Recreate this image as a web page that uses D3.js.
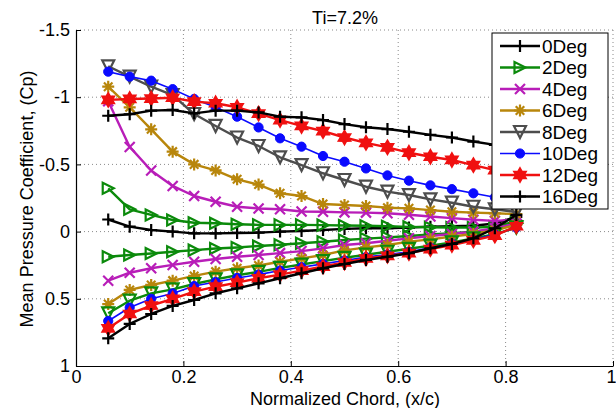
<!DOCTYPE html>
<html><head><meta charset="utf-8">
<script src="https://cdn.jsdelivr.net/npm/d3@7"></script>
<style>
html,body{margin:0;padding:0;background:#fff;}
svg{display:block;font-family:"Liberation Sans",Arial,sans-serif;}
</style></head>
<body><svg id="chart" width="616" height="408"></svg>
<script>
// ---- data ----
const chordX = [0.06,0.10,0.14,0.18,0.22,0.26,0.30,0.34,0.38,0.42,0.46,0.50,0.54,0.58,0.62,0.66,0.70,0.74,0.78,0.82];
const seriesNames = ["0Deg","2Deg","4Deg","6Deg","8Deg","10Deg","12Deg","16Deg"];
const xTicks = [0,0.2,0.4,0.6,0.8,1];
const yTicks = [-1.5,-1,-0.5,0,0.5,1];
const yTickLabels = ["-1.5","-1","-0.5","0","0.5","1"];
const xTickLabels = ["0","0.2","0.4","0.6","0.8","1"];

const cpUpper0  = [-0.09,-0.037,-0.012,0.0,0.013,0.013,0.01,0.008,0.0,-0.005,-0.012,-0.02,-0.025,-0.025,-0.03,-0.037,-0.04,-0.044,-0.06,-0.11];
const cpUpper2  = [-0.322,-0.166,-0.124,-0.086,-0.066,-0.062,-0.055,-0.05,-0.05,-0.05,-0.048,-0.045,-0.043,-0.04,-0.035,-0.032,-0.03,-0.03,-0.035,-0.08];
const cpUpper4  = [-0.97,-0.63,-0.455,-0.34,-0.265,-0.222,-0.185,-0.172,-0.166,-0.15,-0.148,-0.143,-0.141,-0.136,-0.125,-0.112,-0.1,-0.088,-0.08,-0.09];
const cpUpper6  = [-1.078,-0.925,-0.761,-0.595,-0.5,-0.455,-0.389,-0.35,-0.285,-0.265,-0.205,-0.198,-0.19,-0.178,-0.173,-0.16,-0.148,-0.141,-0.136,-0.13];
const cpUpper8  = [-1.23,-1.153,-1.078,-1.016,-0.875,-0.786,-0.70,-0.637,-0.553,-0.495,-0.434,-0.384,-0.334,-0.297,-0.272,-0.24,-0.215,-0.185,-0.166,-0.146];
const cpUpper10 = [-1.19,-1.153,-1.123,-1.06,-0.987,-0.925,-0.855,-0.775,-0.694,-0.632,-0.5625,-0.52,-0.47,-0.418,-0.379,-0.344,-0.316,-0.285,-0.255,-0.23];
const cpUpper12 = [-0.98,-0.987,-0.99,-0.996,-0.967,-0.955,-0.925,-0.878,-0.83,-0.786,-0.748,-0.70,-0.66,-0.627,-0.587,-0.557,-0.533,-0.495,-0.458,-0.42];
const cpUpper16 = [-0.862,-0.873,-0.90,-0.905,-0.88,-0.90,-0.90,-0.887,-0.855,-0.85,-0.83,-0.80,-0.776,-0.763,-0.743,-0.72,-0.70,-0.67,-0.645,-0.62];

const cpLower2  = [0.187,0.174,0.163,0.15,0.138,0.126,0.118,0.107,0.098,0.087,0.075,0.063,0.052,0.043,0.033,0.022,0.012,0.0,-0.015,-0.06];
const cpLower4  = [0.365,0.306,0.273,0.248,0.224,0.204,0.187,0.174,0.16,0.145,0.125,0.1,0.087,0.068,0.05,0.033,0.018,0.0,-0.025,-0.06];
const cpLower6  = [0.539,0.434,0.397,0.365,0.33,0.298,0.273,0.252,0.224,0.199,0.174,0.14,0.117,0.1,0.075,0.058,0.036,0.018,-0.01,-0.05];
const cpLower8  = [0.608,0.514,0.46,0.43,0.39,0.355,0.325,0.3,0.27,0.245,0.22,0.195,0.172,0.15,0.128,0.105,0.08,0.05,0.02,-0.03];
const cpLower10 = [0.665,0.565,0.5,0.46,0.405,0.375,0.345,0.32,0.29,0.265,0.24,0.215,0.19,0.17,0.15,0.12,0.09,0.06,0.02,-0.03];
const cpLower12 = [0.72,0.613,0.55,0.5,0.447,0.41,0.38,0.347,0.32,0.29,0.26,0.23,0.2,0.18,0.16,0.13,0.1,0.065,0.03,-0.04];
const cpLower16 = [0.794,0.687,0.613,0.553,0.509,0.459,0.422,0.385,0.347,0.31,0.273,0.241,0.211,0.187,0.161,0.124,0.092,0.05,-0.025,-0.124];

const seriesColors = ["#000000","#0b8a0b","#b81db8","#b8860b","#4d4d4d","#0a0aff","#f01010","#000000"];
const lowerColors  = ["#000000","#0b8a0b","#b81db8","#b8860b","#0b8a0b","#0a0aff","#f01010","#000000"];
const seriesMarkers = ["plus","tri-right","cross","asterisk","tri-down","circle","hexagram","plus"];

// ---- layout ----
const FONT = "Liberation Sans, Arial, sans-serif";
const svg = d3.select("#chart");
const L = 76, R = 613, T = 30, B = 366;
const x = d3.scaleLinear().domain([0,1]).range([L,R]);
const y = d3.scaleLinear().domain([-1.5,1]).range([T,B]);

// grid
const grid = svg.append("g");
grid.selectAll(".gx").data(xTicks.slice(1)).enter().append("line")
  .attr("x1",d=>x(d)).attr("x2",d=>x(d)).attr("y1",T).attr("y2",B)
  .attr("stroke","#8a8a8a").attr("stroke-width",1).attr("stroke-dasharray","1,3");
grid.selectAll(".gy").data(yTicks.slice(0,-1)).enter().append("line")
  .attr("y1",d=>y(d)).attr("y2",d=>y(d)).attr("x1",L).attr("x2",R)
  .attr("stroke","#8a8a8a").attr("stroke-width",1).attr("stroke-dasharray","1,3");

// axes
const xAxis = d3.axisBottom(x).tickValues(xTicks).tickFormat((d,i)=>xTickLabels[i]).tickSizeInner(-5).tickSizeOuter(0).tickPadding(6);
const yAxis = d3.axisLeft(y).tickValues(yTicks).tickFormat((d,i)=>yTickLabels[i]).tickSizeInner(-5).tickSizeOuter(0).tickPadding(6);
const gx = svg.append("g").attr("transform",`translate(0,${B})`).call(xAxis);
const gy = svg.append("g").attr("transform",`translate(${L},0)`).call(yAxis);
[gx,gy].forEach(g=>{
  g.select(".domain").attr("stroke","#000").attr("stroke-width",1.2);
  g.selectAll(".tick line").attr("stroke","#000");
  g.selectAll(".tick text").attr("fill","#000").style("font-size","18px").style("font-family",FONT);
});
gx.selectAll(".tick text").attr("dy","0.6em");
gx.selectAll(".tick text").filter((d,i)=>i===xTicks.length-1).attr("text-anchor","end").attr("x",3);

// symbols
function markerPath(type, s){
  switch(type){
    case "plus": return `M${-s},0H${s}M0,${-s}V${s}`;
    case "cross": return `M${-s},${-s}L${s},${s}M${-s},${s}L${s},${-s}`;
    case "tri-right": return `M${s},0L${-s},${-s}L${-s},${s}Z`;
    case "tri-down": return `M0,${s}L${-s},${-s}L${s},${-s}Z`;
    case "asterisk": {
      const a=s, b=s*0.71;
      return `M${-a},0H${a}M0,${-a}V${a}M${-b},${-b}L${b},${b}M${-b},${b}L${b},${-b}`;
    }
    case "hexagram": {
      let p="";
      for(let k=0;k<12;k++){
        const r = k%2===0 ? s : s*0.58;
        const ang = -Math.PI/2 + k*Math.PI/6;
        p += (k===0?"M":"L")+(r*Math.cos(ang)).toFixed(2)+","+(r*Math.sin(ang)).toFixed(2);
      }
      return p+"Z";
    }
    default: return "";
  }
}
function drawMarker(g, type, color, cx, cy){
  if(type==="circle"){
    g.append("circle").attr("cx",cx).attr("cy",cy).attr("r",4.6).attr("fill",color).attr("stroke",color);
    return;
  }
  const sizes = {plus:6, cross:5, "tri-right":5.5, "tri-down":6, asterisk:6, hexagram:6.5};
  const filled = (type==="hexagram");
  g.append("path").attr("d",markerPath(type,sizes[type])).attr("transform",`translate(${cx},${cy})`)
    .attr("fill",filled?color:"none").attr("stroke",color).attr("stroke-width",2.2).attr("stroke-linejoin","miter");
}

const upperSets = [cpUpper0,cpUpper2,cpUpper4,cpUpper6,cpUpper8,cpUpper10,cpUpper12,cpUpper16];
const lowerSets = [null,cpLower2,cpLower4,cpLower6,cpLower8,cpLower10,cpLower12,cpLower16];

const line = d3.line().x((d,i)=>x(chordX[i])).y(d=>y(d));
const plot = svg.append("g");
function drawSeries(vals, i, color){
  if(!vals) return;
  const g = plot.append("g");
  g.append("path").attr("d",line(vals)).attr("fill","none").attr("stroke",color)
    .attr("stroke-width", i===5?1.6:2.4).attr("stroke-linejoin","round");
  vals.forEach((v,j)=>drawMarker(g, seriesMarkers[i], color, x(chordX[j]), y(v)));
}
upperSets.forEach((v,i)=>drawSeries(v,i,seriesColors[i]));
lowerSets.forEach((v,i)=>drawSeries(v,i,lowerColors[i]));

// legend
const lg = svg.append("g");
const lx = 492, ly = 33, lw = 116, lh = 176;
lg.append("rect").attr("x",lx).attr("y",ly).attr("width",lw).attr("height",lh).attr("fill","#fff").attr("stroke","#000").attr("stroke-width",1);
seriesNames.forEach((name,i)=>{
  const yy = ly + 13 + i*21.5;
  lg.append("line").attr("x1",lx+8).attr("x2",lx+48).attr("y1",yy).attr("y2",yy)
    .attr("stroke",seriesColors[i]).attr("stroke-width", i===5?1.6:2.4);
  drawMarker(lg, seriesMarkers[i], seriesColors[i], lx+28, yy);
  lg.append("text").attr("x",lx+50).attr("y",yy).attr("dy","0.36em").text(name)
    .style("font-size","19px").style("font-family",FONT).attr("fill","#000");
});

// titles
svg.append("text").attr("x",345).attr("y",24).attr("text-anchor","middle").text("Ti=7.2%").style("font-size","18px").style("font-family",FONT);
svg.append("text").attr("x",345).attr("y",405).attr("text-anchor","middle").text("Normalized Chord, (x/c)").style("font-size","18px").style("font-family",FONT);
svg.append("text").attr("transform","translate(33,199) rotate(-90)").attr("text-anchor","middle").text("Mean Pressure Coefficient, (Cp)").style("font-size","18px").style("font-family",FONT);
</script></body></html>
